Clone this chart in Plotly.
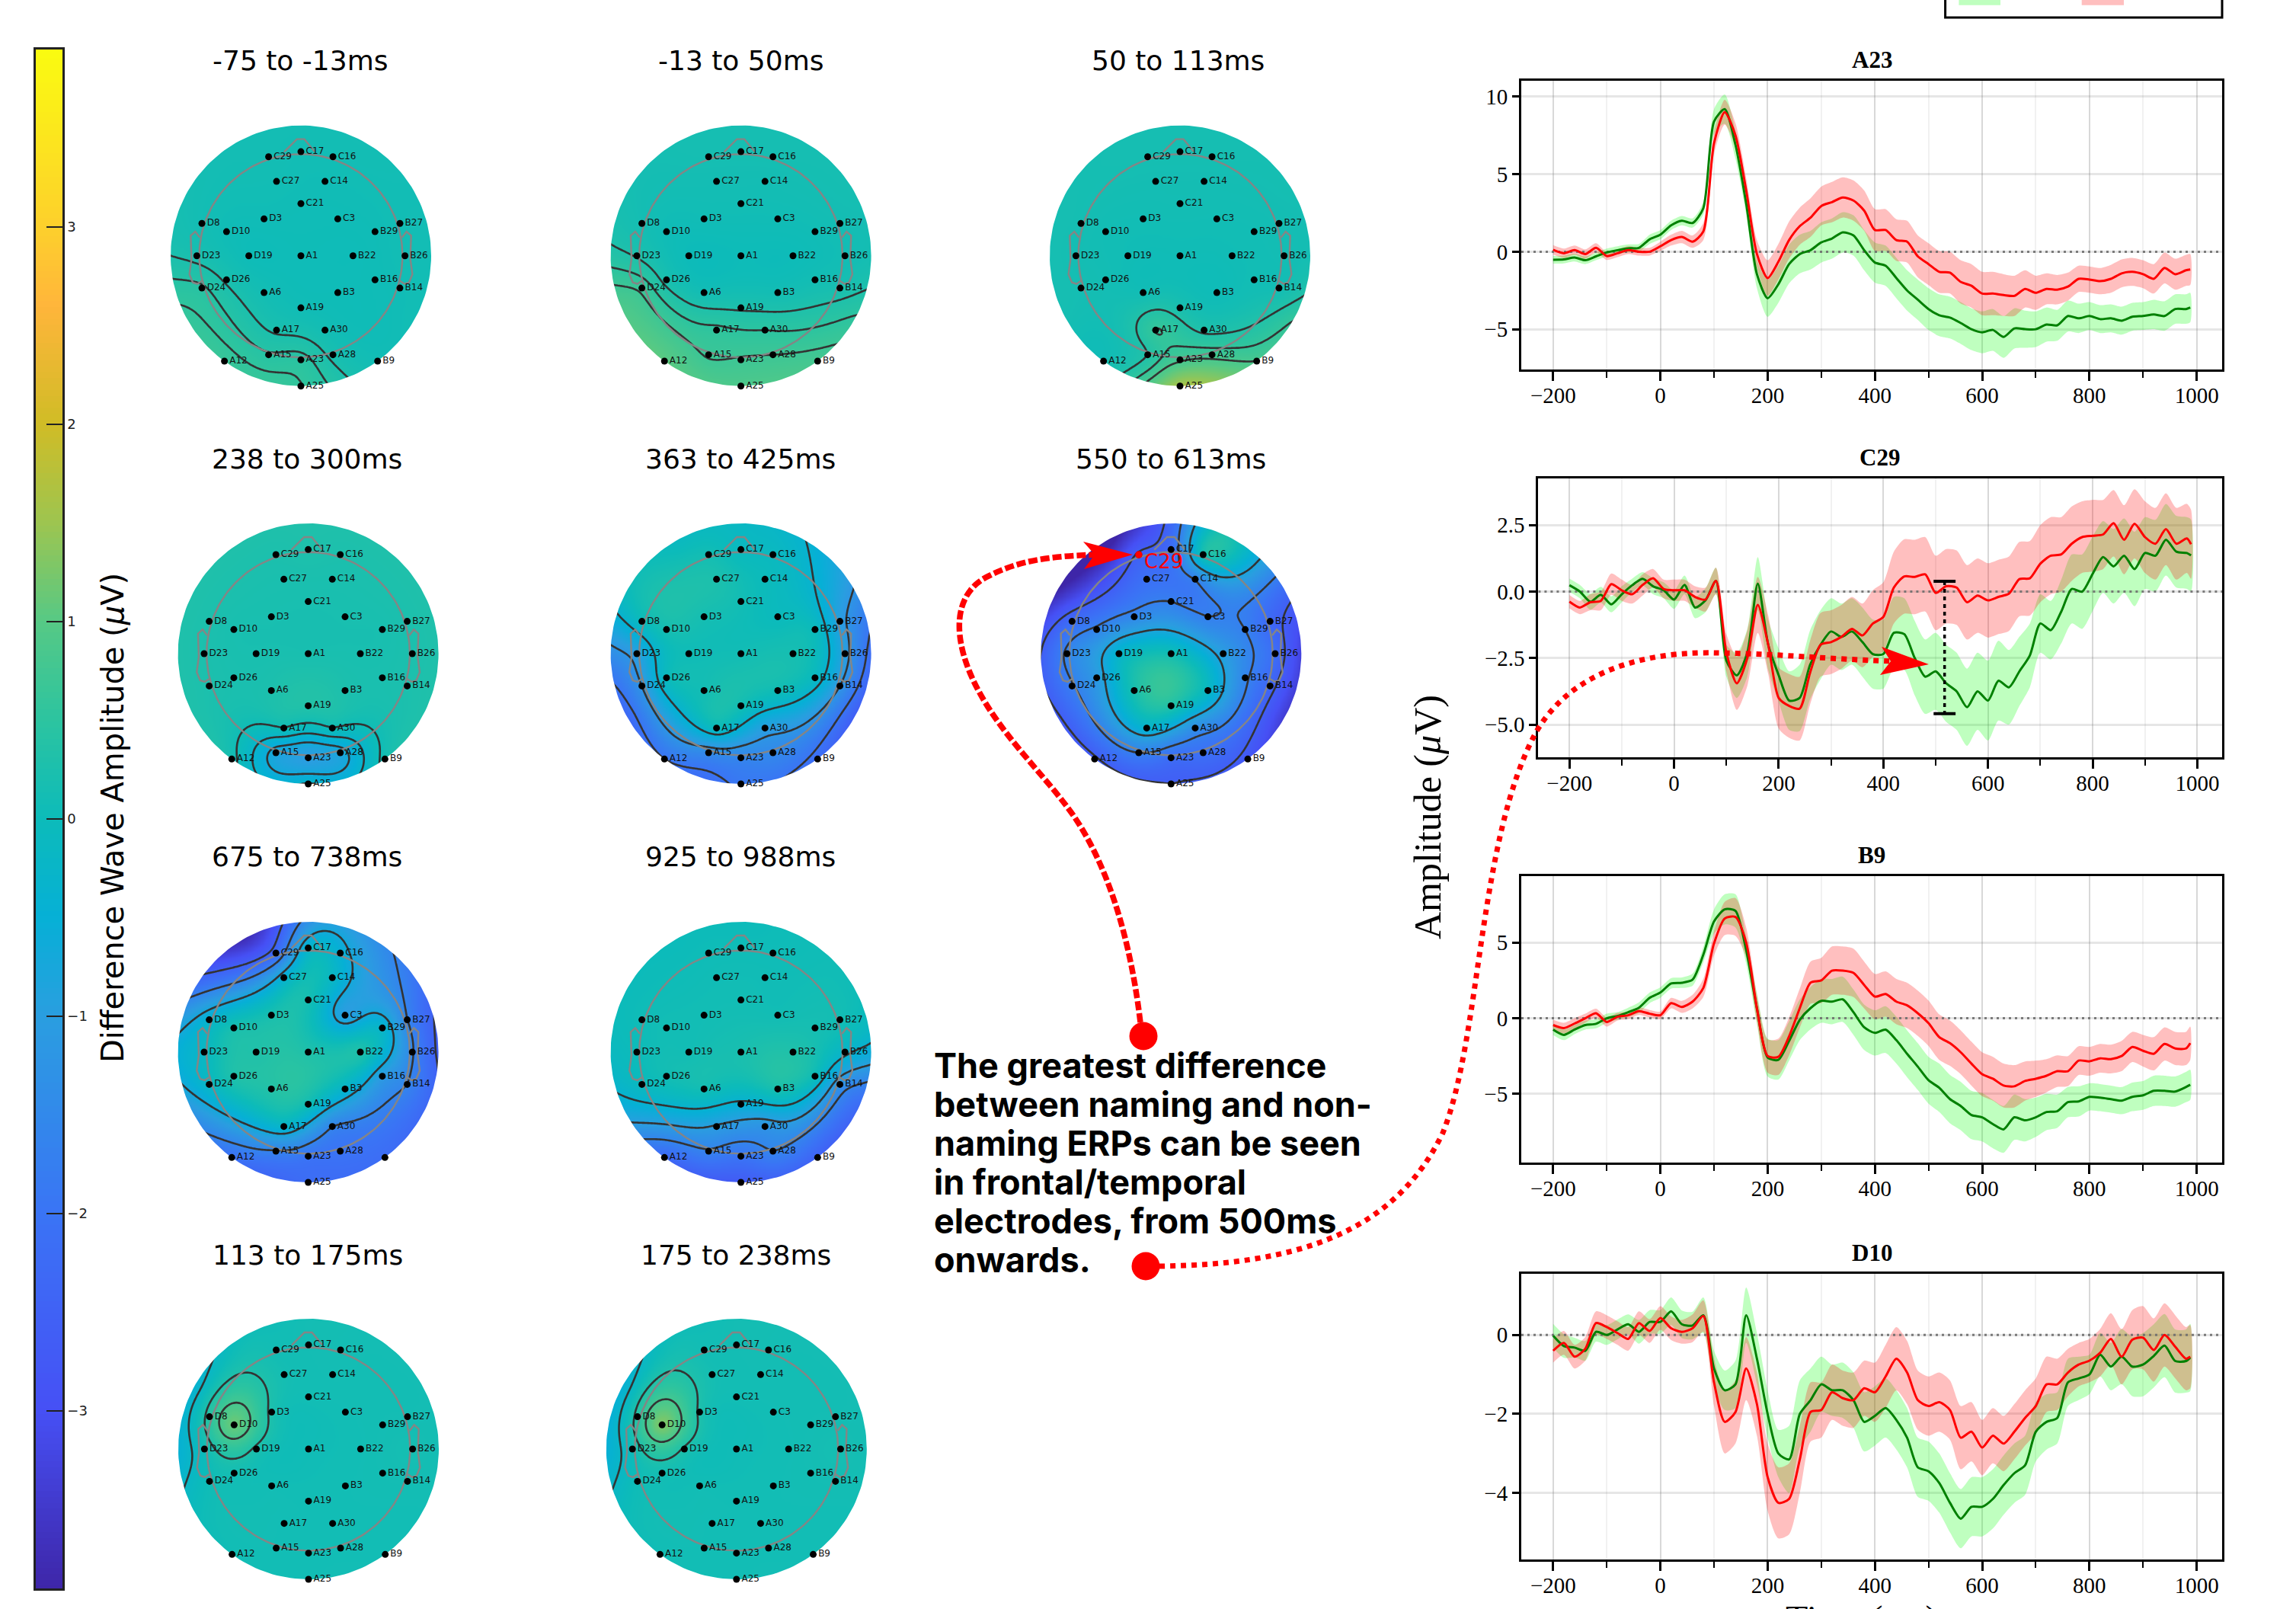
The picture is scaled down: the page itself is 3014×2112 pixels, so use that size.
import numpy as np
import plotly.graph_objects as go

W, H = 3014, 2112

# ---------- ERP data ----------
TIME = list(range(-200, 1000, 20)) + [988]

A23_GREEN = [-.52,-.5,-.38,-.55,-.3,-.05,.1,.22,.25,.8,
 1.1,1.7,2.0,1.85,2.8,8.4,9.2,6.9,3.1,-1.45,
 -3.0,-2.1,-.8,-.15,.1,.6,.85,1.25,1.05,.1,
 -.7,-.9,-1.7,-2.5,-3.1,-3.7,-4.1,-4.25,-4.6,-5.0,
 -5.2,-5.05,-5.5,-4.95,-5.0,-5.0,-4.7,-4.75,-4.15,-4.3,
 -4.15,-4.35,-4.3,-4.45,-4.2,-4.15,-4.05,-4.15,-3.7,-3.7,-3.6]
A23_RED = [.12,-.1,.1,-.15,.25,-.28,-.1,.1,0,0,
 .35,.75,.95,.65,1.3,7.0,9.0,7.5,3.95,-.15,
 -1.7,-.65,.75,1.65,2.2,2.95,3.2,3.5,3.3,2.65,
 1.4,1.4,.75,.65,-.3,-.8,-1.3,-1.35,-1.95,-2.2,
 -2.7,-2.7,-2.8,-2.85,-2.4,-2.65,-2.4,-2.45,-2.25,-1.75,
 -1.8,-1.9,-1.75,-1.4,-1.3,-1.45,-1.75,-1.05,-1.45,-1.2,-1.15]
A23_GREEN_SEM = [.25,.25,.25,.25,.25,.25,.25,.25,.25,.3,
 .3,.3,.3,.3,.4,.8,.95,.9,.7,.9,
 1.2,1.2,1.25,1.25,1.25,1.3,1.3,1.3,1.3,1.3,
 1.3,1.3,1.3,1.3,1.3,1.35,1.35,1.35,1.35,1.35,
 1.35,1.35,1.35,1.3,1.2,1.15,1.1,1.0,1.0,.95,
 .9,.9,.9,.9,.9,.9,.95,.95,.95,.95,.95]
A23_RED_SEM = [.3,.3,.3,.3,.3,.25,.25,.25,.25,.25,
 .3,.35,.4,.4,.55,.7,.8,.8,.8,.9,
 1.15,1.15,1.2,1.2,1.25,1.25,1.3,1.3,1.3,1.3,
 1.35,1.35,1.35,1.35,1.35,1.35,1.35,1.35,1.4,1.4,
 1.4,1.4,1.35,1.3,1.2,1.1,1.0,.95,.9,.85,
 .85,.85,.9,.9,.9,.9,.95,1.0,1.0,1.0,1.0]

C29_GREEN = [.24,.0,-.38,-.12,-.48,-.1,.24,.48,.2,.05,
 -.3,.25,-.6,-.33,.4,-2.6,-3.15,-2.3,.3,-2.0,
 -3.15,-4.1,-4.0,-2.75,-2.0,-1.5,-1.7,-1.5,-1.9,-2.35,
 -2.35,-1.55,-1.6,-2.5,-3.2,-3.0,-3.45,-3.75,-4.35,-3.75,
 -4.1,-3.35,-3.6,-3.0,-2.4,-1.2,-1.45,-.75,.1,.0,
 .67,1.3,.95,1.35,.85,1.45,1.35,1.95,1.5,1.45,1.36]
C29_RED = [-.38,-.6,-.4,-.35,.28,.05,-.1,.25,.5,.1,
 .05,.05,-.2,-.3,.4,-2.3,-3.45,-2.5,-.5,-2.0,
 -4.0,-4.3,-4.4,-3.05,-2.0,-1.9,-1.7,-1.4,-1.65,-1.2,
 -.95,.15,.57,.55,.65,-.05,.2,.15,-.4,-.15,
 -.33,-.2,-.08,.47,.5,1.05,1.35,1.4,1.8,2.05,
 2.1,2.15,2.57,1.95,2.55,2.05,1.8,2.35,1.8,2.0,1.78]
C29_GREEN_SEM = [.25,.25,.3,.3,.3,.3,.25,.25,.3,.3,
 .35,.35,.4,.45,.5,.6,.85,.9,1.0,.95,
 1.0,1.1,1.25,1.3,1.3,1.25,1.25,1.25,1.3,1.3,
 1.3,1.35,1.35,1.4,1.4,1.45,1.45,1.45,1.45,1.45,
 1.5,1.5,1.4,1.3,1.2,1.1,1.1,1.2,1.3,1.4,
 1.4,1.35,1.4,1.4,1.4,1.35,1.35,1.35,1.35,1.35,1.35]
C29_RED_SEM = [.25,.25,.3,.35,.4,.4,.35,.4,.35,.35,
 .4,.4,.4,.45,.5,.7,1.0,1.05,1.05,1.1,
 1.15,1.2,1.2,1.2,1.2,1.2,1.2,1.2,1.2,1.25,
 1.3,1.35,1.4,1.4,1.4,1.4,1.4,1.4,1.4,1.4,
 1.4,1.4,1.4,1.4,1.4,1.45,1.45,1.4,1.4,1.35,
 1.35,1.3,1.25,1.3,1.3,1.35,1.35,1.35,1.35,1.3,1.3]

B9_GREEN = [-.75,-1.1,-.75,-.45,-.37,0,.15,.4,.7,1.35,
 1.7,2.3,2.35,2.55,4.2,6.4,7.2,7.1,4.5,.65,
 -2.6,-2.75,-1.5,-.1,.67,1.15,1.1,1.25,.4,-.6,
 -.97,-.75,-1.45,-2.35,-3.2,-4.1,-4.6,-5.35,-5.8,-6.4,
 -6.55,-7.0,-7.35,-6.55,-6.75,-6.55,-6.2,-6.15,-5.55,-5.5,
 -5.2,-5.25,-5.35,-5.45,-5.2,-5.1,-4.8,-4.8,-4.85,-4.55,-4.4]
B9_RED = [-.45,-.65,-.35,0,.33,-.25,.1,.2,.47,.3,
 .2,1.0,.75,1.1,2.0,4.95,6.6,6.7,5.0,.65,
 -2.5,-2.55,-1.2,.67,2.35,2.5,3.15,3.15,3.0,2.2,
 1.43,1.6,1.1,.85,.33,-.33,-1.25,-1.65,-2.25,-3.0,
 -3.7,-4.0,-4.45,-4.5,-4.15,-4.0,-3.8,-3.5,-3.5,-2.8,
 -2.85,-2.65,-2.7,-2.5,-1.9,-2.15,-2.35,-1.7,-2.0,-2.0,-1.65]
B9_GREEN_SEM = [.35,.35,.3,.3,.3,.3,.25,.3,.35,.35,
 .35,.35,.35,.4,.5,.8,1.0,1.1,.9,1.0,
 1.25,1.3,1.3,1.35,1.4,1.45,1.5,1.5,1.5,1.5,
 1.5,1.55,1.55,1.55,1.55,1.55,1.6,1.6,1.6,1.6,
 1.6,1.6,1.55,1.5,1.4,1.3,1.2,1.1,1.0,1.0,
 .9,.9,.9,.9,.95,.95,1.0,1.0,1.0,1.0,1.0]
B9_RED_SEM = [.35,.35,.35,.3,.3,.3,.25,.25,.25,.25,
 .25,.35,.4,.45,.6,.8,1.1,1.25,1.0,.9,
 1.1,1.2,1.25,1.3,1.4,1.5,1.6,1.6,1.6,1.55,
 1.5,1.5,1.5,1.5,1.5,1.5,1.5,1.5,1.45,1.45,
 1.45,1.45,1.45,1.4,1.3,1.2,1.1,1.05,1.0,.95,
 .95,.95,.95,1.0,1.0,1.05,1.1,1.1,1.1,1.1,1.1]

D10_GREEN = [-.02,-.28,-.32,-.4,.08,-.0,.14,.27,.08,.33,
 .33,.6,.27,.24,.5,-.85,-1.4,-1.25,.5,-.6,
 -2.0,-3.0,-3.15,-2.0,-1.65,-1.25,-1.4,-1.4,-1.65,-2.2,
 -2.05,-1.85,-2.15,-2.6,-3.35,-3.45,-3.75,-4.25,-4.65,-4.35,
 -4.35,-4.15,-3.8,-3.5,-3.3,-2.45,-2.2,-2.1,-1.2,-1.1,
 -1.0,-.5,-.8,-.55,-.8,-.75,-.53,-.27,-.66,-.66,-.57]
D10_RED = [-.4,-.2,-.55,-.35,.3,.2,.05,-.1,.3,.1,
 .43,.17,.08,.17,.48,-1.2,-2.2,-1.95,-.85,-1.75,
 -3.6,-4.25,-4.15,-3.15,-1.95,-1.9,-1.45,-1.6,-1.65,-1.35,
 -1.45,-1.05,-.6,-.95,-1.65,-1.8,-1.7,-1.9,-2.6,-2.45,
 -2.85,-2.55,-2.75,-2.45,-2.1,-1.8,-1.25,-1.25,-.95,-.75,
 -.65,-.45,-.1,-.55,-.12,-.07,-.38,0,-.3,-.6,-.55]
D10_GREEN_SEM = [.3,.3,.25,.25,.25,.25,.25,.25,.3,.3,
 .3,.35,.35,.35,.45,.45,.5,.6,.7,.65,
 .6,.6,.85,.85,.8,.7,.65,.7,.7,.75,
 .75,.75,.75,.75,.75,.75,.75,.75,.75,.75,
 .75,.75,.75,.75,.75,.75,.7,.65,.6,.55,
 .5,.55,.6,.7,.75,.8,.8,.8,.8,.8,.85]
D10_RED_SEM = [.3,.3,.3,.3,.3,.3,.3,.3,.3,.3,
 .3,.3,.3,.35,.4,.6,.8,.8,.8,.8,
 .85,.9,.9,.85,.75,.7,.7,.7,.7,.7,
 .75,.8,.8,.8,.75,.75,.75,.75,.8,.75,
 .7,.7,.7,.7,.7,.7,.7,.65,.6,.55,
 .55,.6,.65,.7,.75,.8,.8,.8,.8,.8,.8]

ERP_TITLES = ["A23", "C29", "B9", "D10"]
ERP_YTICKS = [[-5, 0, 5, 10], [-5, -2.5, 0, 2.5], [-5, 0, 5], [-4, -2, 0]]
ERP_YRANGE = [[-7.6, 11.03], [-6.24, 4.265], [-9.56, 9.4], [-5.69, 1.543]]
XTICKS = [-200, 0, 200, 400, 600, 800, 1000]

# error bar drawn on C29
GAP_TIME = 517
GAP_TOP = 0.39
GAP_BOTTOM = -4.59

# ---------- topomap data ----------
ELECTRODES = ["C17","C29","C16","C27","C14","C21","D3","C3","D8","D10","B29","B27","D23","D19","A1","B22","B26",
              "D26","B16","D24","B14","A6","B3","A19","A17","A30","A15","A28","A12","A23","B9","A25"]
ELEC_X = [0,-.248,.246,-.187,.185,0,-.283,.283,-.76,-.571,.569,.76,-.799,-.4,0,.4,.799,
          -.571,.569,-.76,.76,-.283,.283,0,-.187,.185,-.248,.246,-.587,0,.589,0]
ELEC_Y = [.799,.76,.76,.571,.571,.4,.283,.283,.248,.185,.185,.248,0,0,0,0,0,
          -.185,-.185,-.248,-.248,-.283,-.283,-.4,-.571,-.571,-.76,-.76,-.809,-.799,-.809,-1.0]
RIM_ANGLES = [0, 30, 60, 90, 120, 150, 180, 210, 330]

# each row: the 32 electrodes in the order above, then the 9 rim values
TOPO_TITLES = ["-75 to -13ms", "-13 to 50ms", "50 to 113ms", "238 to 300ms", "363 to 425ms", "550 to 613ms",
               "675 to 738ms", "925 to 988ms", "113 to 175ms", "175 to 238ms"]
TOPO_CX = [395, 972.6, 1549, 404.6, 972.6, 1537.3, 404.6, 972.6, 405, 966.8]
TOPO_CY = [335.7, 335.7, 335.7, 858, 858, 858, 1381, 1381, 1902, 1902]
TOPO_VALUES = [
 [.1,.12,.1,.1,.08,.07,.07,.06,.12,.07,.07,.1,.2,.04,.05,.04,.1,.22,.06,.43,.08,.12,.05,.08,.22,.12,.42,.2,.65,.47,.1,.56,
  .1,.1,.12,.12,.12,.14,.25,.6,.1],
 [.15,.15,.15,.12,.12,.1,.08,.08,.14,.07,.08,.12,.28,.02,.03,.03,.1,.22,.12,.65,.2,.12,.12,.27,.55,.5,.67,.7,1.05,.72,.8,.9,
  .15,.15,.15,.15,.15,.15,.38,.95,.55],
 [.15,.15,.15,.13,.13,.12,.1,.1,.14,.1,.1,.12,.13,.08,.07,.08,.12,.12,.1,.14,.12,.1,.05,.22,.62,.3,.35,.75,.1,.8,.85,1.6,
  .15,.15,.15,.15,.15,.15,.16,.14,.6],
 [.28,.25,.25,.22,.22,.2,.2,.2,.25,.2,.2,.25,.25,.2,.2,.2,.25,.22,.22,.25,.25,.25,.25,.32,.05,.05,-.8,-.8,.15,-1.05,.15,-.25,
  .3,.3,.3,.3,.3,.3,.3,.3,.3],
 [-.1,.12,-.1,.25,-.02,.1,.15,-.05,-.05,.15,-.05,-1.0,-1.0,.05,.1,.15,-1.0,-.05,-.15,-1.2,-1.2,.1,.05,.1,-.05,-1.0,-1.5,-1.5,-2.0,-1.6,-2.2,-1.9,
  -2.2,-1.2,-.4,-.15,-.1,.0,-1.4,-2.3,-2.6],
 [-2.2,-2.5,.2,-2.1,-1.7,-1.7,-1.5,-1.7,-2.2,-1.6,-1.7,-2.3,-1.6,-.3,.1,-1.0,-2.2,-1.1,-1.6,-1.75,-2.4,.2,-.2,.3,-.4,-1.4,-1.7,-2.1,-2.7,-2.2,-2.8,-2.6,
  -3.3,-2.2,.1,-2.3,-4.2,-3.9,-2.6,-2.7,-3.4],
 [-.3,-2.2,-.5,-.4,-.2,.15,.2,-1.0,-.35,.2,-.3,-1.6,-.2,.3,.3,.3,-1.55,.3,-1.1,-.2,-1.6,.35,-.35,.05,-.3,-1.6,-1.65,-2.0,-2.1,-2.0,-2.2,-2.2,
  -2.6,-2.1,-1.3,-1.3,-3.7,-2.0,-.5,-1.3,-2.3],
 [.05,.05,.05,.08,.08,.1,.1,.1,.05,.1,.15,.1,0,.1,.2,.3,-.3,.1,.0,-.1,-1.3,.1,.2,-.5,-1.05,-1.25,-1.65,-1.6,-2.3,-2.0,-2.5,-2.7,
  -.6,.05,.05,0,0,0,-.1,-.85,-2.4],
 [.12,.1,.12,.14,.12,.1,.22,.1,.45,1.15,.12,.12,.05,.22,.07,.1,.15,.12,.12,.06,.12,.1,.1,.1,.1,.1,.1,.1,.08,.1,.1,.1,
  .12,.12,.12,.12,.05,-.4,-.45,.0,.1],
 [.12,.1,.12,.14,.12,.1,.24,.1,.42,1.3,.12,.12,.05,.24,.07,.1,.15,.12,.12,.06,.12,.1,.1,.1,.1,.1,.1,.1,.08,.1,.1,.1,
  .12,.12,.12,.12,.05,-.45,-.5,.0,.1],
]
# contour levels per map: lowest, highest, spacing
TOPO_LEVELS = [(.25,.55,.15),(.3,.7,.2),(.35,.85,.25),(-.65,.05,.35),(-2.0,-.4,.8),(-2.6,-.8,.9),(-2.5,-.7,.9),(-1.6,-.4,.6),(-.2,.8,.5),(-.2,.8,.5)]

CB_TICKS = [-3, -2, -1, 0, 1, 2, 3]
CB_RANGE = [-3.9, 3.9]
CB_LEVELS = list(np.arange(-3.9, 3.9001, 0.03))

COLORSCALE_STOPS = [(-3.9,"#3E26A8"),(-3.0,"#4650F5"),(-2.0,"#3A74F5"),(-1.0,"#2A9EE0"),(-.5,"#06B0D6"),(0,"#0CBBBA"),
                    (.5,"#2CC4A0"),(1,"#56C985"),(1.5,"#9DC550"),(2,"#D0BC26"),(2.6,"#FFB53B"),(3.0,"#FDD02C"),(3.9,"#FAFB10")]

EXPLAIN_LINES = ["The greatest difference", "between naming and non-", "naming ERPs can be seen",
                 "in frontal/temporal", "electrodes, from 500ms", "onwards."]

# ---------- helpers ----------
def px(x): return x / W
def py(y): return 1 - y / H
def path(s):
    out = []
    for tok in s.split():
        if tok[0].isalpha():
            out.append(tok[0]); tok = tok[1:]
            if not tok: continue
        a, b = tok.split(",")
        out.append(f"{px(float(a)):.6f},{py(float(b)):.6f}")
    return " ".join(out)

CS = [[(v - CB_RANGE[0]) / (CB_RANGE[1] - CB_RANGE[0]), c] for v, c in COLORSCALE_STOPS]

fig = go.Figure()
layout = {}
annotations = []
shapes = []

def note(x, y, text, size, font="DejaVu Sans", color="black", angle=0, xa="center", ya="middle"):
    annotations.append(dict(x=px(x), y=py(y), xref="paper", yref="paper", text=text, showarrow=False,
                            font=dict(family=font, size=size, color=color), textangle=angle,
                            xanchor=xa, yanchor=ya, borderpad=0, borderwidth=0))

# ---------- ERP panels ----------
ERP_BOX = [(1997, 2917, 106, 485), (2019.4, 2917, 627.7, 994.3), (1997, 2917, 1150, 1526.3), (1997, 2917, 1672.3, 2047.3)]
ERP_DATA = [(A23_GREEN, A23_RED, A23_GREEN_SEM, A23_RED_SEM), (C29_GREEN, C29_RED, C29_GREEN_SEM, C29_RED_SEM),
            (B9_GREEN, B9_RED, B9_GREEN_SEM, B9_RED_SEM), (D10_GREEN, D10_RED, D10_GREEN_SEM, D10_RED_SEM)]
ERP_TITLE_Y = [78, 600, 1122, 1644]
ax = 1
for i in range(4):
    l, r, t, b = ERP_BOX[i]
    g, rd, gs, rs = [np.array(a, float) for a in ERP_DATA[i]]
    xn, yn = f"x{ax}", f"y{ax}"
    common = dict(showline=True, linecolor="black", linewidth=3, mirror=True, zeroline=False,
                  tickfont=dict(family="Liberation Serif", size=29, color="black"), ticks="outside", tickcolor="black")
    layout[f"xaxis{ax}"] = dict(domain=[px(l), px(r)], range=[-259.4, 1047.4], anchor=yn, tickvals=XTICKS,
                                ticklen=12, tickwidth=3, ticklabelstandoff=-6, showgrid=True, gridcolor="rgba(128,128,128,0.22)", gridwidth=2,
                                minor=dict(dtick=100, tick0=0, ticks="outside", ticklen=8, tickwidth=2, tickcolor="black",
                                           showgrid=True, gridcolor="rgba(128,128,128,0.11)", gridwidth=2), **common)
    layout[f"yaxis{ax}"] = dict(domain=[py(b), py(t)], range=ERP_YRANGE[i], anchor=xn, tickvals=ERP_YTICKS[i],
                                tickformat=".1f" if i == 1 else "d", ticklen=9, tickwidth=3, showgrid=True,
                                gridcolor="rgba(128,128,128,0.2)", gridwidth=3, **common)
    for m, s, col in ((g, gs, "rgba(0,255,0,0.25)"), (rd, rs, "rgba(255,0,0,0.25)")):
        fig.add_trace(go.Scatter(x=TIME + TIME[::-1], y=list(m + s) + list((m - s)[::-1]), mode="lines", fill="toself",
                                 fillcolor=col, line=dict(width=0, shape="spline", smoothing=0.7), hoverinfo="skip",
                                 showlegend=False, xaxis=xn, yaxis=yn))
    fig.add_trace(go.Scatter(x=[-259.4, 1047.4], y=[0, 0], mode="lines", line=dict(color="rgba(110,110,110,0.9)", width=3, dash="3px,5px"),
                             hoverinfo="skip", showlegend=False, xaxis=xn, yaxis=yn))
    fig.add_trace(go.Scatter(x=TIME, y=g, mode="lines", line=dict(color="#008000", width=3, shape="spline", smoothing=0.7),
                             name="Naming", showlegend=False, xaxis=xn, yaxis=yn))
    fig.add_trace(go.Scatter(x=TIME, y=rd, mode="lines", line=dict(color="#FF0000", width=3, shape="spline", smoothing=0.7),
                             name="Non-naming", showlegend=False, xaxis=xn, yaxis=yn))
    if i == 1:
        fig.add_trace(go.Scatter(x=[GAP_TIME, GAP_TIME], y=[GAP_TOP, GAP_BOTTOM], mode="lines",
                                 line=dict(color="black", width=3.5, dash="5px,5px"), hoverinfo="skip", showlegend=False, xaxis=xn, yaxis=yn))
        for v in (GAP_TOP, GAP_BOTTOM):
            fig.add_trace(go.Scatter(x=[GAP_TIME - 21, GAP_TIME + 21], y=[v, v], mode="lines", line=dict(color="black", width=4),
                                     hoverinfo="skip", showlegend=False, xaxis=xn, yaxis=yn))
    note((l + r) / 2 if i != 1 else 2467, ERP_TITLE_Y[i], f"<b>{ERP_TITLES[i]}</b>", 31, "Liberation Serif")
    ax += 1

# ---------- topomaps ----------
R_PX = 171.0
SPAN = 1.08
gx = np.linspace(-SPAN, SPAN, 161)
GX, GY = np.meshgrid(gx, gx)
theta = np.radians(RIM_ANGLES)
PX = np.r_[np.array(ELEC_X), np.cos(theta)]
PY = np.r_[np.array(ELEC_Y), np.sin(theta)]

def tps_kernel(d2):
    return 0.5 * d2 * np.log(d2 + 1e-12)

def field(vals):
    n = len(PX)
    d2 = (PX[:, None] - PX[None, :]) ** 2 + (PY[:, None] - PY[None, :]) ** 2
    K = tps_kernel(d2) + 0.002 * np.eye(n)
    P = np.c_[np.ones(n), PX, PY]
    A = np.block([[K, P], [P.T, np.zeros((3, 3))]])
    sol = np.linalg.solve(A, np.r_[np.array(vals, float), np.zeros(3)])
    d2g = (GX[..., None] - PX) ** 2 + (GY[..., None] - PY) ** 2
    z = np.round(tps_kernel(d2g) @ sol[:n] + sol[n] + sol[n + 1] * GX + sol[n + 2] * GY, 3)
    z[GX ** 2 + GY ** 2 > 1.04 ** 2] = np.nan
    return z

phi = np.linspace(0, 2 * np.pi, 181)
HEAD_X, HEAD_Y = 0.78 * np.cos(phi), 0.78 * np.sin(phi)
NOSE_X = [-.129, -.031, .027, .105]
NOSE_Y = [.797, .895, .895, .80]
EAR_X = [-.776, -.811, -.846, -.84, -.856, -.83, -.795, -.756]
EAR_Y = [.14, .185, .154, -.025, -.142, -.205, -.216, -.191]
RING_X = [-1.4, 1.4, 1.4, -1.4, -1.4, 1.0] + list(np.cos(phi)) + [-1.4]
RING_Y = [-1.4, -1.4, 1.4, 1.4, -1.4, 0.0] + list(-np.sin(phi)) + [-1.4]

for k, vals in enumerate(TOPO_VALUES):
    xn, yn = f"x{ax}", f"y{ax}"
    cx, cy = TOPO_CX[k], TOPO_CY[k]
    h = SPAN * R_PX
    hidden = dict(visible=False, showgrid=False, zeroline=False, fixedrange=True)
    layout[f"xaxis{ax}"] = dict(domain=[px(cx - h), px(cx + h)], range=[-SPAN, SPAN], anchor=yn, **hidden)
    layout[f"yaxis{ax}"] = dict(domain=[py(cy + h), py(cy - h)], range=[-SPAN, SPAN], anchor=xn, **hidden)
    lo, hi, step = TOPO_LEVELS[k]
    fig.add_trace(go.Contour(x=gx, y=gx, z=field(vals), coloraxis="coloraxis", autocontour=False,
                             contours=dict(start=lo, end=hi, size=step, coloring="heatmap", showlabels=False),
                             line=dict(color="#333333", width=2.6, smoothing=1), hoverinfo="skip", xaxis=xn, yaxis=yn, showlegend=False))
    fig.add_trace(go.Scatter(x=RING_X, y=RING_Y, mode="lines", fill="toself", fillcolor="white", line=dict(width=0),
                             hoverinfo="skip", showlegend=False, xaxis=xn, yaxis=yn))
    gray = dict(color="#858585", width=2.4)
    for xs, ys in ((HEAD_X, HEAD_Y), (NOSE_X, NOSE_Y), (EAR_X, EAR_Y), (-np.array(EAR_X), EAR_Y)):
        fig.add_trace(go.Scatter(x=xs, y=ys, mode="lines", line=gray, hoverinfo="skip", showlegend=False, xaxis=xn, yaxis=yn))
    labels = list(ELECTRODES)
    if k == 5:
        labels[ELECTRODES.index("C29")] = ""
    if k == 6:
        labels[ELECTRODES.index("B9")] = ""
    fig.add_trace(go.Scatter(x=ELEC_X, y=ELEC_Y, mode="markers+text", text=labels, textposition="middle right",
                             textfont=dict(family="DejaVu Sans", size=12, color="#111"), marker=dict(color="black", size=9),
                             cliponaxis=False, hoverinfo="text", showlegend=False, xaxis=xn, yaxis=yn))
    if k == 5:
        c = ELECTRODES.index("C29")
        fig.add_trace(go.Scatter(x=[ELEC_X[c]], y=[ELEC_Y[c]], mode="markers", marker=dict(color="#FF0000", size=9.5),
                                 hoverinfo="skip", showlegend=False, xaxis=xn, yaxis=yn))
    note(cx + ({0:-1,1:0,2:-3,3:-2,4:-1,5:0,6:-2,7:-1,8:-1,9:-1}[k]), [80, 602, 1124, 1647][(0,0,0,1,1,1,2,2,3,3)[k]], TOPO_TITLES[k], 36)
    ax += 1

# ---------- colour bar ----------
xn, yn = f"x{ax}", f"y{ax}"
layout[f"xaxis{ax}"] = dict(domain=[px(47), px(82)], range=[0, 1], anchor=yn, showticklabels=False, ticks="", showgrid=False,
                            zeroline=False, showline=True, mirror=True, linecolor="#222", linewidth=2.5)
layout[f"yaxis{ax}"] = dict(domain=[py(2085), py(65)], range=CB_RANGE, anchor=xn, side="right", tickvals=CB_TICKS,
                            tickformat="d", ticks="inside", ticklen=21, tickwidth=2, tickcolor="#222", showgrid=False, zeroline=False,
                            showline=True, mirror=True, linecolor="#222", linewidth=2.5,
                            tickfont=dict(family="DejaVu Sans", size=18, color="#222"))
fig.add_trace(go.Heatmap(x=[0, 1], y=CB_LEVELS, z=[[v, v] for v in CB_LEVELS], coloraxis="coloraxis", hoverinfo="skip",
                         xaxis=xn, yaxis=yn, showlegend=False))
note(148, 1074, "Difference Wave Amplitude (<i>μ</i>V)", 40, angle=-90)

# ---------- page-level text ----------
note(1874, 1073, "Amplitude (<i>μ</i>V)", 50, "Liberation Serif", angle=-90)
note(2444, 2098, "Time (ms)", 48, "Liberation Serif", ya="top")
for n, line in enumerate(EXPLAIN_LINES):
    note(1226, 1398 + 51.1 * n, f"<b>{line}</b>", 45, "Inter", xa="left")
note(1527, 737, "C29", 26, color="#FF0000")

# ---------- overlay shapes ----------
RED = "#FF0000"
def curve(d, dash, width, color=RED):
    shapes.append(dict(type="path", path=path(d), xref="paper", yref="paper", line=dict(color=color, width=width, dash=dash), layer="above"))
def poly(d, color=RED):
    shapes.append(dict(type="path", path=path(d), xref="paper", yref="paper", line=dict(width=0), fillcolor=color, layer="above"))
def disc(x, y, r):
    shapes.append(dict(type="circle", xref="paper", yref="paper", x0=px(x - r), x1=px(x + r), y0=py(y + r), y1=py(y - r),
                       fillcolor=RED, line=dict(width=0), layer="above"))
def rect(x0, y0, x1, y1, fill=None, line=None):
    shapes.append(dict(type="rect", xref="paper", yref="paper", x0=px(x0), x1=px(x1), y0=py(y1), y1=py(y0),
                       fillcolor=fill or "rgba(0,0,0,0)", line=dict(color=line or "black", width=3 if line else 0), layer="above"))

curve("M1497,1342 C1480,1200 1440,1110 1400,1058 C1360,1005 1300,950 1272,880 C1250,825 1255,775 1300,755 C1340,735 1380,730 1440,728", "12px,4px", 7.5)
poly("M1487,728 L1422,711 L1437,728 L1423,747 Z")
disc(1501, 1360, 18.5)
curve("M1522,1662 C1700,1660 1830,1620 1894,1487 C1945,1360 1940,1100 2017,960 C2070,870 2180,855 2255,857 C2330,858 2400,865 2484,868", "7px,7px", 7)
poly("M2532,872 L2470,849 L2482,868 L2468,886 Z")
disc(1504, 1662, 18.5)

rect(2553.6, -20, 2917, 23, line="black")
rect(2571.4, -10, 2626, 6.7, fill="rgba(0,255,0,0.25)")
rect(2732.7, -10, 2788, 6.7, fill="rgba(255,0,0,0.25)")

fig.update_layout(width=W, height=H, margin=dict(l=0, r=0, t=0, b=0, pad=0), autosize=False, paper_bgcolor="white", plot_bgcolor="white",
                  showlegend=False, annotations=annotations, shapes=shapes, hovermode=False,
                  coloraxis=dict(colorscale=CS, cmin=CB_RANGE[0], cmax=CB_RANGE[1], showscale=False), **layout)
fig.write_html("out.html", config=dict(displayModeBar=False),
               post_script="document.body.style.margin='0';document.body.style.overflow='hidden';")
